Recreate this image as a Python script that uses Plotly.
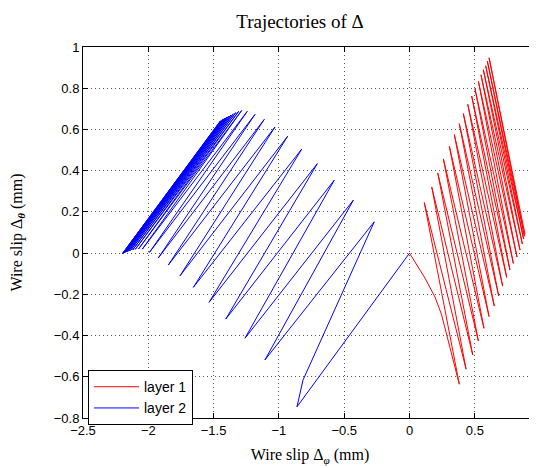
import plotly.graph_objects as go

# ---- data ----
# layer 1 (red) trajectory: start curve, then alternating bottom/top vertices
layer1_x = [0.0, 0.119, 0.195, 0.246, 0.381,
            0.113, 0.433, 0.170, 0.484, 0.216, 0.527, 0.259, 0.570, 0.305, 0.609,
            0.343, 0.649, 0.381, 0.683, 0.412, 0.713, 0.446, 0.744, 0.476, 0.769,
            0.501, 0.795, 0.527, 0.823, 0.547, 0.846, 0.565, 0.864, 0.583, 0.874,
            0.596, 0.880, 0.609, 0.884]
layer1_y = [0.0, -0.122, -0.213, -0.300, -0.636,
            0.2455, -0.563, 0.321, -0.494, 0.389, -0.426, 0.457, -0.365, 0.518, -0.308,
            0.575, -0.257, 0.628, -0.208, 0.677, -0.160, 0.722, -0.118, 0.762, -0.082,
            0.798, -0.050, 0.834, -0.019, 0.865, 0.015, 0.890, 0.044, 0.909, 0.068,
            0.931, 0.082, 0.948, 0.092]

# layer 2 (blue) trajectory
layer2_x = [0.0, -0.862, -0.815,
            -0.270, -1.107, -0.430, -1.260, -0.576, -1.407, -0.706, -1.535,
            -0.826, -1.655, -0.933, -1.757, -1.030, -1.847, -1.112, -1.923,
            -1.183, -1.992, -1.242, -2.046, -1.285, -2.075, -1.308, -2.100,
            -1.330, -2.120, -1.350, -2.137, -1.368, -2.151, -1.384, -2.163,
            -1.398, -2.173, -1.410, -2.181, -1.421, -2.188, -1.430, -2.193,
            -1.438, -2.197, -1.444, -2.200, -1.449]
layer2_y = [0.0, -0.746, -0.615,
            0.152, -0.518, 0.257, -0.413, 0.354, -0.320, 0.434, -0.239,
            0.504, -0.166, 0.567, -0.110, 0.612, -0.058, 0.649, -0.023,
            0.673, 0.003, 0.688, 0.019, 0.692, 0.020, 0.688, 0.018,
            0.682, 0.015, 0.676, 0.012, 0.670, 0.009, 0.665, 0.006,
            0.660, 0.004, 0.656, 0.002, 0.652, 0.000, 0.649, -0.002,
            0.646, -0.003, 0.643, -0.004, 0.641]

x_ticks = [-2.5, -2, -1.5, -1, -0.5, 0, 0.5, 1]
x_tick_labels = ["\u22122.5", "\u22122", "\u22121.5", "\u22121", "\u22120.5", "0", "0.5", "1"]
y_ticks = [-0.8, -0.6, -0.4, -0.2, 0, 0.2, 0.4, 0.6, 0.8, 1]
y_tick_labels = ["\u22120.8", "\u22120.6", "\u22120.4", "\u22120.2", "0", "0.2", "0.4", "0.6", "0.8", "1"]

fig = go.Figure()
fig.add_trace(go.Scatter(x=layer1_x, y=layer1_y, mode="lines", name="layer 1",
                         line=dict(color="#ff0000", width=1)))
fig.add_trace(go.Scatter(x=layer2_x, y=layer2_y, mode="lines", name="layer 2",
                         line=dict(color="#0000ff", width=1)))

sans = "Liberation Sans, Arial, sans-serif"
serif = "Liberation Serif, Times New Roman, serif"
tick_font = dict(family=sans, size=13, color="black")

# the page body adds an 8px offset, so the figure is 8px smaller than the window
fig.update_layout(
    width=529, height=460,
    margin=dict(l=75, r=0, t=39, b=50, autoexpand=False),
    paper_bgcolor="white", plot_bgcolor="white",
    title=dict(text="Trajectories of Δ", x=0.552, xanchor="center", y=0.972,
               yanchor="middle", pad=dict(t=0, b=0),
               font=dict(family=serif, size=19, color="black")),
    showlegend=True,
    legend=dict(x=0.011, y=0.129, xanchor="left", yanchor="top",
                bgcolor="white", bordercolor="black", borderwidth=1,
                font=dict(family=sans, size=14, color="black"),
                tracegroupgap=0, itemwidth=45),
)
fig.update_xaxes(range=[-2.5, 0.976], tickvals=x_ticks, ticktext=x_tick_labels,
                 ticks="inside", ticklen=5, tickcolor="black", automargin=False,
                 showline=True, linecolor="black", linewidth=1, mirror="ticks",
                 showgrid=True, gridcolor="#555555", gridwidth=1, griddash="1px,3px",
                 zeroline=False, tickfont=tick_font,
                 title=dict(text="Wire slip Δ<sub><i>φ</i></sub> (mm)", standoff=12,
                            font=dict(family=serif, size=16, color="black")))
fig.update_yaxes(range=[-0.8, 1.0], tickvals=y_ticks, ticktext=y_tick_labels,
                 ticks="inside", ticklen=5, tickcolor="black", automargin=False,
                 showline=True, linecolor="black", linewidth=1, mirror=False,
                 showgrid=True, gridcolor="#555555", gridwidth=1, griddash="1px,3px",
                 zeroline=False, tickfont=tick_font,
                 title=dict(text="Wire slip Δ<sub><b><i>θ</i></b></sub> (mm)", standoff=28,
                            font=dict(family=serif, size=16, color="black")))

fig.write_html("out.html")
